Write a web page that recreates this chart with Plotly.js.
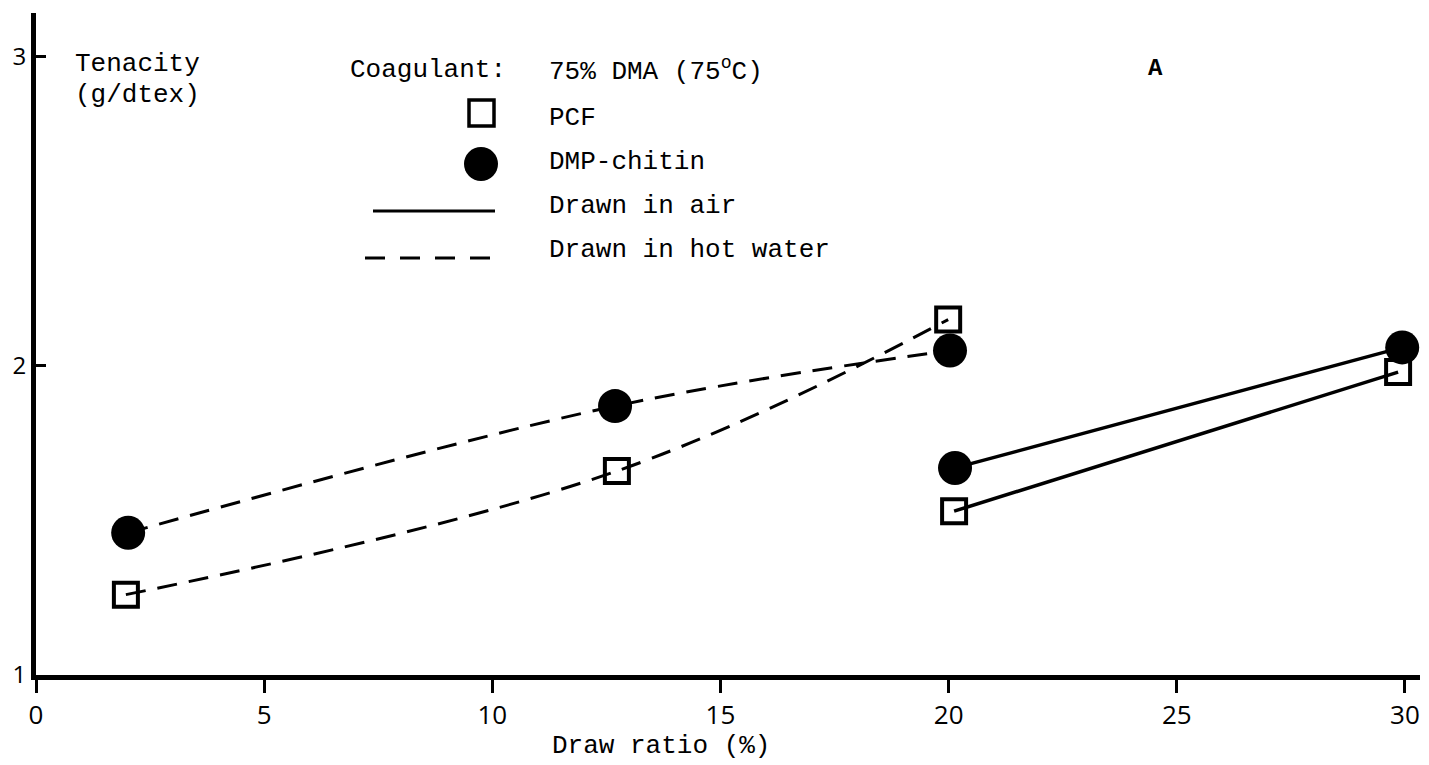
<!DOCTYPE html>
<html>
<head>
<meta charset="utf-8">
<script src="https://cdn.plot.ly/plotly-3.0.1.min.js"></script>
<style>html,body{margin:0;padding:0;background:#fff;}#chart{width:1429px;height:765px;}</style>
</head>
<body>
<div id="chart"></div>
<script>
// Data
const xTicks = [0, 5, 10, 15, 20, 25, 30];
const yTicks = [1, 2, 3];

const pcfHotX = [1.97, 12.73, 19.99];
const pcfHotY = [1.26, 1.66, 2.15];
const dmpHotX = [2.02, 12.69, 20.03];
const dmpHotY = [1.46, 1.87, 2.05];
const dmpAirX = [20.14, 29.94];
const dmpAirY = [1.67, 2.06];
const pcfAirX = [20.12, 29.85];
const pcfAirY = [1.53, 1.98];

const legendLabels = ["PCF", "DMP-chitin", "Drawn in air", "Drawn in hot water"];

// Layout geometry (pixels)
const W = 1429, H = 765;
const L = 36, R = 1420, T = 13, B = 675;
const px = x => (x - L) / (R - L);
const py = y => (B - y) / (B - T);

const mono = "Liberation Mono, DejaVu Sans Mono, monospace";
const squareMarker = {symbol: "square-open", size: 24, color: "black", line: {width: 4, color: "black"}};
const circleMarker = {symbol: "circle", size: 34, color: "black", line: {width: 0}};

const traces = [
  {x: pcfHotX, y: pcfHotY, mode: "lines+markers", name: "PCF, hot water",
   line: {color: "black", width: 3, dash: "20px,12px", shape: "spline", smoothing: 1.1},
   marker: squareMarker, showlegend: false, hoverinfo: "x+y"},
  {x: dmpHotX, y: dmpHotY, mode: "lines+markers", name: "DMP-chitin, hot water",
   line: {color: "black", width: 3, dash: "20px,12px", shape: "spline", smoothing: 1},
   marker: circleMarker, showlegend: false, hoverinfo: "x+y"},
  {x: dmpAirX, y: dmpAirY, mode: "lines+markers", name: "DMP-chitin, air",
   line: {color: "black", width: 3.5},
   marker: circleMarker, showlegend: false, hoverinfo: "x+y"},
  {x: pcfAirX, y: pcfAirY, mode: "lines+markers", name: "PCF, air",
   line: {color: "black", width: 3.5},
   marker: squareMarker, showlegend: false, hoverinfo: "x+y"}
];

function textAnn(text, x, y, size, extra) {
  return Object.assign({
    text: text, xref: "paper", yref: "paper", x: px(x), y: py(y),
    xanchor: "left", yanchor: "middle", showarrow: false, borderpad: 0,
    font: {family: mono, size: size || 26, color: "black"}
  }, extra || {});
}

const annotations = [
  textAnn("Tenacity", 74, 64),
  textAnn("(g/dtex)", 74, 95),
  textAnn("Coagulant:", 349, 70),
  textAnn("75% DMA (75<sup>o</sup>C)", 548, 70),
  textAnn("A", 1155, 68, 24, {xanchor: "center", font: {family: mono, size: 24, color: "black", weight: "bold"}}),
  textAnn(legendLabels[0], 548, 118),
  textAnn(legendLabels[1], 548, 162),
  textAnn(legendLabels[2], 548, 206),
  textAnn(legendLabels[3], 548, 250),
  textAnn("Draw ratio (%)", 661, 746, 26, {xanchor: "center"})
];

const shapes = [
  {type: "rect", xref: "paper", yref: "paper", x0: px(469), x1: px(494), y0: py(100), y1: py(126),
   line: {color: "black", width: 3.5}, fillcolor: "rgba(0,0,0,0)"},
  {type: "circle", xref: "paper", yref: "paper", x0: px(464), x1: px(498), y0: py(147), y1: py(181),
   line: {color: "black", width: 0}, fillcolor: "black"},
  {type: "line", xref: "paper", yref: "paper", x0: px(373), x1: px(495), y0: py(211), y1: py(211),
   line: {color: "black", width: 3}},
  {type: "line", xref: "paper", yref: "paper", x0: px(365), x1: px(502), y0: py(258), y1: py(258),
   line: {color: "black", width: 3, dash: "20px,15px"}}
];

const layout = {
  width: W, height: H,
  margin: {l: L, r: W - R, t: T, b: H - B, pad: 0},
  paper_bgcolor: "white", plot_bgcolor: "white",
  showlegend: false,
  xaxis: {
    range: [0, 30.33], tickvals: xTicks, ticktext: xTicks.map(String),
    showgrid: false, zeroline: false, showline: true, linecolor: "black", linewidth: 5,
    ticks: "outside", ticklen: 13, tickwidth: 3, tickcolor: "black",
    tickfont: {family: "Open Sans, DejaVu Sans, sans-serif", size: 26, color: "black"}
  },
  yaxis: {
    range: [1, 3.142], tickvals: yTicks, ticktext: yTicks.map(String),
    showgrid: false, zeroline: false, showline: true, linecolor: "black", linewidth: 5,
    ticks: "inside", ticklen: 10, tickwidth: 3, tickcolor: "black",
    tickfont: {family: "Open Sans, DejaVu Sans, sans-serif", size: 24, color: "black"}
  },
  annotations: annotations,
  shapes: shapes
};

Plotly.newPlot("chart", traces, layout, {displayModeBar: false, staticPlot: true});
</script>
</body>
</html>
